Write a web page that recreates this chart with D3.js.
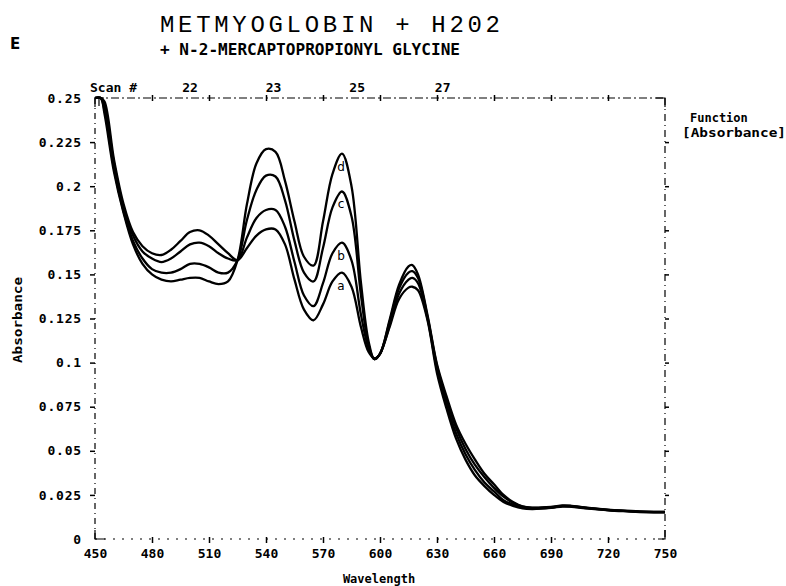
<!DOCTYPE html>
<meta charset="utf-8">
<style>
body { margin: 0; background: #fff; }
svg { background: #fff; }
.axis text {
    font: bold 13px "DejaVu Sans Mono", monospace;
    fill: #000;
}
.axis line {
    stroke: #000;
    stroke-width: 1.5px;
}
.axis path { display: none; }
.frame {
    fill: none;
    stroke: #000;
    stroke-width: 1.2px;
}
.spectrum {
    fill: none;
    stroke: #000;
    stroke-width: 2.3px;
    stroke-linejoin: round;
}
.lbl { font: bold 13px "DejaVu Sans Mono", monospace; fill: #000; }
</style>
<body>
<div id="chart"></div>
<script src="https://d3js.org/d3.v7.min.js"></script>
<script>
// wavelength samples (nm) shared by the four scans
var wavelengths = [450,453,455,460,465,470,475,480,485,490,495,500,505,510,515,520,525,530,535,540,
    545,550,555,560,565,570,575,580,585,590,594,597,600,605,610,615,617,620,625,630,
    635,640,645,650,655,660,665,670,675,680,690,696,700,710,720,730,740,750];

var scanA = [0.285,0.262,0.248,0.215,0.190,0.174,0.166,0.162,0.161,0.164,0.169,0.174,0.175,0.172,0.167,0.162,0.158,0.165,0.172,0.1755,
    0.1755,0.167,0.147,0.130,0.124,0.133,0.146,0.151,0.143,0.120,0.106,0.1025,0.105,0.124,0.144,0.1545,0.1553,0.150,0.127,0.099,
    0.081,0.065,0.054,0.045,0.037,0.031,0.025,0.021,0.0185,0.0178,0.0182,0.019,0.0189,0.0176,0.0166,0.016,0.0155,0.0154];
var scanB = [0.283,0.260,0.246,0.213,0.188,0.172,0.163,0.159,0.157,0.159,0.163,0.167,0.168,0.166,0.162,0.159,0.158,0.171,0.182,0.1865,
    0.1865,0.177,0.157,0.138,0.132,0.145,0.162,0.168,0.158,0.127,0.108,0.102,0.105,0.123,0.142,0.151,0.1518,0.148,0.126,0.098,
    0.079,0.063,0.051,0.042,0.035,0.029,0.024,0.0205,0.0183,0.0176,0.018,0.0188,0.0187,0.0175,0.0165,0.0159,0.0154,0.0153];
var scanC = [0.280,0.257,0.243,0.210,0.186,0.169,0.159,0.153,0.151,0.151,0.153,0.156,0.156,0.154,0.151,0.151,0.158,0.181,0.198,0.206,
    0.2055,0.192,0.169,0.151,0.146,0.165,0.188,0.197,0.183,0.138,0.110,0.102,0.105,0.121,0.139,0.147,0.148,0.145,0.125,0.096,
    0.076,0.060,0.048,0.039,0.032,0.027,0.022,0.0195,0.0178,0.0172,0.0178,0.0186,0.0185,0.0174,0.0164,0.0158,0.0153,0.0152];
var scanD = [0.278,0.255,0.241,0.208,0.185,0.167,0.156,0.150,0.147,0.146,0.147,0.148,0.148,0.146,0.1445,0.146,0.158,0.190,0.213,0.221,
    0.2195,0.203,0.180,0.160,0.155,0.180,0.207,0.2185,0.200,0.145,0.112,0.102,0.105,0.120,0.136,0.1425,0.143,0.141,0.124,0.094,
    0.074,0.057,0.045,0.036,0.030,0.025,0.021,0.0188,0.0174,0.017,0.0176,0.0184,0.0183,0.0172,0.0163,0.0157,0.0152,0.0151];

var scanNames = ["a", "b", "c", "d"];
var xTicks = [450,480,510,540,570,600,630,660,690,720,750];
var yTicks = [0,0.025,0.05,0.075,0.1,0.125,0.15,0.175,0.2,0.225,0.25];
var yTickLabels = ["0","0.025","0.05","0.075","0.1","0.125","0.15","0.175","0.2","0.225","0.25"];
var scanNumbers = ["22","23","25","27"];
var scanNumberAt = [500,544,588,633];   // wavelength under each scan number
var labelAt = 580;                       // curve letters sit under the 580 nm peak

var margin = { top: 98, right: 121, bottom: 47, left: 95 },
    width = 786 - margin.left - margin.right,
    height = 586 - margin.top - margin.bottom;

var svgRoot = d3.select("#chart").append("svg")
    .attr("width", 786)
    .attr("height", 586);
var svg = svgRoot.append("g")
    .attr("transform", "translate(" + margin.left + "," + margin.top + ")");

var x = d3.scaleLinear().domain([450, 750]).range([0, width]);
var y = d3.scaleLinear().domain([0, 0.25]).range([height, 0]).clamp(true);

// frame: dash-dot plotter lines with solid corners
svg.append("line").attr("class", "frame").attr("x1", 0).attr("y1", 0).attr("x2", width).attr("y2", 0)
    .attr("stroke-dasharray", "8,3,2,3");
svg.append("line").attr("class", "frame").attr("x1", 0).attr("y1", 0).attr("x2", 0).attr("y2", height)
    .attr("stroke-dasharray", "6,4,1,4");
svg.append("line").attr("class", "frame").attr("x1", 0).attr("y1", height).attr("x2", width).attr("y2", height)
    .attr("stroke-dasharray", "2,7");
svg.append("line").attr("class", "frame").attr("x1", width).attr("y1", 0).attr("x2", width).attr("y2", height)
    .attr("stroke-dasharray", "7,4,1,4");
svg.append("path").attr("class", "frame")
    .attr("d", "M0,9V0H9 M4,0V8" +
        " M0," + (height - 9) + "V" + height + "H10" +
        " M" + (width - 7) + "," + height + "H" + width + "V" + (height - 9) +
        " M" + (width - 9) + ",0H" + width + "V9");

// axes
var yAxis = svg.append("g").attr("class", "axis")
    .call(d3.axisLeft(y).tickValues(yTicks)
        .tickFormat(function(d, i) { return yTickLabels[i]; })
        .tickSize(5).tickPadding(8));
yAxis.selectAll(".tick line").filter(function(d) { return d === 0 || d === 0.25; }).remove();
yAxis.selectAll(".tick text").attr("letter-spacing", "0.8px");

var xAxis = svg.append("g").attr("class", "axis")
    .attr("transform", "translate(0," + height + ")")
    .call(d3.axisBottom(x).tickValues(xTicks).tickSize(4).tickPadding(6));
xAxis.selectAll(".tick line").attr("y1", -2)
    .filter(function(d) { return d === 450 || d === 750; }).remove();

var topAxis = svg.append("g").attr("class", "axis")
    .call(d3.axisTop(x).tickValues(xTicks.slice(1, -1)).tickSize(3).tickFormat(""));
topAxis.selectAll(".tick line").attr("y1", 3);

var rightAxis = svg.append("g").attr("class", "axis")
    .attr("transform", "translate(" + width + ",0)")
    .call(d3.axisRight(y).tickValues(yTicks.slice(1, -1)).tickSize(4).tickFormat(""));

// spectra
var scans = [scanA, scanB, scanC, scanD];
var line = d3.line()
    .x(function(d, i) { return x(wavelengths[i]); })
    .y(function(d) { return y(d); })
    .curve(d3.curveCatmullRom.alpha(0.5));

svg.selectAll(".spectrum")
    .data(scans)
    .enter().append("path")
    .attr("class", "spectrum")
    .attr("d", line);

var li = wavelengths.indexOf(labelAt);
svg.selectAll(".curve-label")
    .data(scans)
    .enter().append("text")
    .attr("x", x(labelAt) - 1)
    .attr("y", function(d) { return y(d[li]) + 17; })
    .attr("text-anchor", "middle")
    .style("font", "12px 'DejaVu Sans', sans-serif")
    .text(function(d, i) { return scanNames[i]; });

// scan numbers above the plot
svg.append("text").attr("class", "lbl").attr("x", -5).attr("y", -6).text("Scan #");
svg.selectAll(".scan-num")
    .data(scanNumbers)
    .enter().append("text")
    .attr("class", "lbl")
    .attr("x", function(d, i) { return x(scanNumberAt[i]); })
    .attr("y", -6)
    .attr("text-anchor", "middle")
    .text(function(d) { return d; });

// titles and axis names
svgRoot.append("text")
    .attr("x", 160).attr("y", 32)
    .attr("textLength", 340).attr("lengthAdjust", "spacing")
    .style("font", "24px 'Liberation Mono', monospace")
    .text("METMYOGLOBIN + H202");
svgRoot.append("text")
    .attr("x", 160).attr("y", 55)
    .attr("textLength", 300).attr("lengthAdjust", "spacingAndGlyphs")
    .style("font", "bold 15px 'DejaVu Sans Mono', monospace")
    .text("+ N-2-MERCAPTOPROPIONYL GLYCINE");
svgRoot.append("text")
    .attr("x", 10).attr("y", 49)
    .style("font", "bold 15px 'DejaVu Sans', sans-serif")
    .text("E");
svgRoot.append("text")
    .attr("class", "lbl")
    .attr("transform", "translate(22,320) rotate(-90)")
    .attr("text-anchor", "middle")
    .attr("textLength", 86).attr("lengthAdjust", "spacingAndGlyphs")
    .style("font-size", "12px")
    .text("Absorbance");
svgRoot.append("text")
    .attr("class", "lbl")
    .attr("x", 379).attr("y", 583)
    .attr("text-anchor", "middle")
    .style("font-size", "12px")
    .text("Wavelength");
svgRoot.append("text")
    .attr("class", "lbl")
    .attr("x", 690).attr("y", 122)
    .style("font-size", "12px")
    .text("Function");
svgRoot.append("text")
    .attr("class", "lbl")
    .attr("x", 682).attr("y", 137)
    .attr("textLength", 104).attr("lengthAdjust", "spacingAndGlyphs")
    .style("font-size", "12px")
    .text("[Absorbance]");
</script>
</body>
